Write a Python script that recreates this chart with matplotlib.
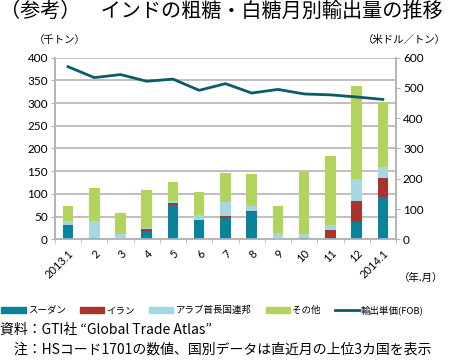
#-*- coding: utf-8 -*-
# India raw/white sugar monthly exports (reference chart)

import numpy as np
import matplotlib.pyplot as plt
from matplotlib.patches import Patch
from matplotlib.lines import Line2D

plt.rcParams['font.family'] = ['Noto Sans CJK JP', 'DejaVu Sans']

# ============================================================
#                           Data
# ============================================================
months = ['2013.1', '2', '3', '4', '5', '6', '7', '8', '9', '10', '11', '12', '2014.1']
sudan = [32, 4, 0, 19, 75, 43, 46, 61, 0, 1, 4, 38, 94]
iran = [0, 0, 0, 3, 4, 0, 6, 2, 0, 2, 16, 47, 40]
uae = [8, 36, 12, 3, 6, 10, 30, 10, 13, 9, 11, 47, 26]
other = [33, 73, 47, 84, 42, 51, 64, 70, 61, 136, 153, 205, 143]
price = [570, 534, 544, 522, 529, 492, 514, 483, 495, 480, 477, 470, 462]

c_sudan = '#0A8299'
c_iran = '#A8342F'
c_uae = '#A5D8E2'
c_other = '#B3D45C'
c_line = '#0B5B6A'
c_grid = '#B4B4B4'

# ============================================================
#                          Plotting
# ============================================================
fig = plt.figure(figsize=(4.5, 3.6), dpi=100)
ax = fig.add_axes([0.122, 0.335, 0.758, 0.505])
ax2 = ax.twinx()

x = np.arange(len(months))
w = 0.4
b1 = np.array(sudan)
b2 = b1 + np.array(iran)
b3 = b2 + np.array(uae)
ax.bar(x, sudan, w, color=c_sudan, zorder=3)
ax.bar(x, iran, w, bottom=b1, color=c_iran, zorder=3)
ax.bar(x, uae, w, bottom=b2, color=c_uae, zorder=3)
ax.bar(x, other, w, bottom=b3, color=c_other, zorder=3)
ax2.plot(x, price, color=c_line, lw=2.0, zorder=4)

ax.set_xlim(-0.5, len(months) - 0.5)
ax.set_ylim(0, 400)
ax2.set_ylim(0, 600)
ax.set_yticks(np.arange(0, 401, 50))
ax2.set_yticks(np.arange(0, 601, 100))
ax.yaxis.grid(True, color=c_grid, lw=1.2, zorder=0)
ax.set_axisbelow(True)

ax.set_xticks(x)
ax.set_xticklabels(months, rotation=45, ha='right', rotation_mode='anchor', fontsize=8,
                   family=['Lato', 'DejaVu Sans'])
ax.set_xticks(np.arange(-0.5, len(months), 1.0), minor=True)
ax.tick_params(axis='x', which='major', length=0, pad=6)
ax.tick_params(axis='x', which='minor', length=3, color=c_grid, direction='out')
ax.tick_params(axis='y', length=3, color=c_grid, labelsize=8.5, pad=2)
ax2.tick_params(axis='y', length=3, color=c_grid, labelsize=8.5, pad=2)
for lab in ax.get_yticklabels() + ax2.get_yticklabels():
    lab.set_family(['Lato', 'DejaVu Sans'])

for a in (ax, ax2):
    for s in ('left', 'right', 'bottom'):
        a.spines[s].set_color(c_grid)
        a.spines[s].set_linewidth(1.2)
    a.spines['top'].set_visible(False)

# Titles and axis captions
fig.text(0.0, 0.968, '（参考）　インドの粗糖・白糖月別輸出量の推移', fontsize=14.5, va='center', ha='left')
fig.text(0.075, 0.89, '（千トン）', fontsize=7.5, va='center', ha='left')
fig.text(0.99, 0.89, '（米ドル／トン）', fontsize=7.5, va='center', ha='right')
fig.text(0.985, 0.228, '（年.月）', fontsize=7.5, va='center', ha='right')

# Legend
handles = [Patch(color=c_sudan), Patch(color=c_iran), Patch(color=c_uae), Patch(color=c_other),
           Line2D([0], [0], color=c_line, lw=2)]
labels = ['スーダン', 'イラン', 'アラブ首長国連邦', 'その他', '輸出単価(FOB)']
fig.legend(handles, labels, loc='center left', bbox_to_anchor=(-0.012, 0.138), ncol=5, frameon=False,
           fontsize=6.8, handlelength=2.6, handleheight=0.6, handletextpad=0.2, columnspacing=1.5,
           borderpad=0.2)

# Notes
fig.text(0.0, 0.083, '資料：GTI社 “Global Trade Atlas”', fontsize=10, va='center', ha='left')
fig.text(0.0, 0.03, '　注：HSコード1701の数値、国別データは直近月の上位3カ国を表示', fontsize=10,
         va='center', ha='left')

fig.savefig('out.png', dpi=100)
